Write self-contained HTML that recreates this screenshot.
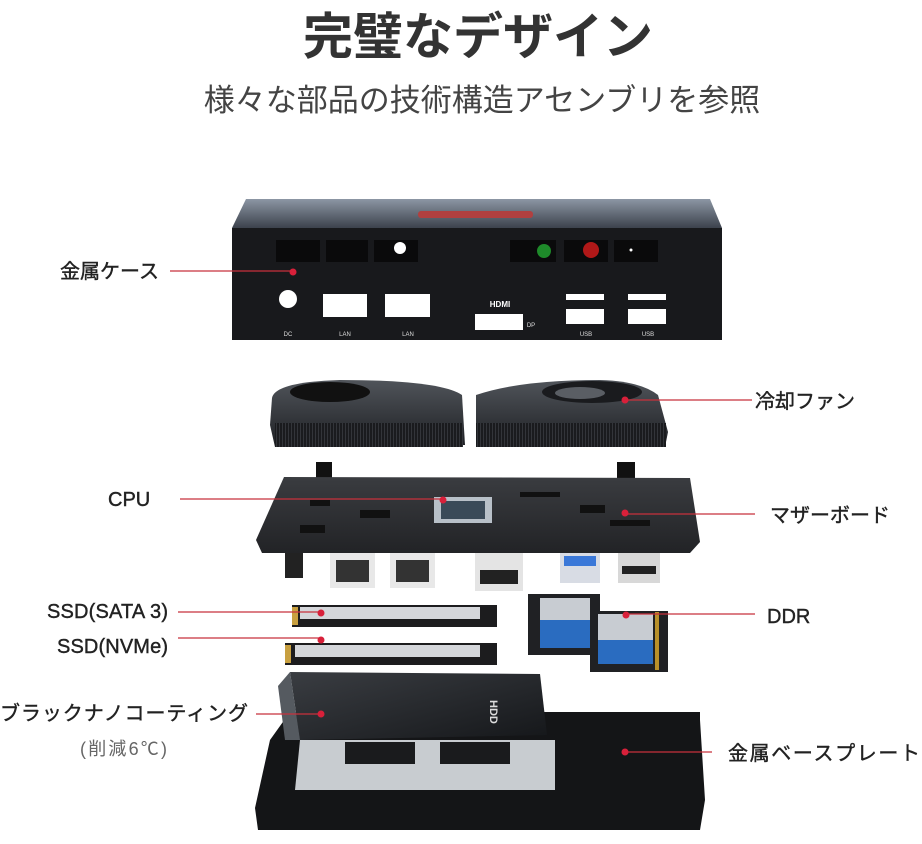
<!DOCTYPE html>
<html><head><meta charset="utf-8"><style>
html,body{margin:0;padding:0;background:#fff;width:922px;height:844px;overflow:hidden}
svg{display:block}
text{font-family:"Liberation Sans","Noto Sans CJK JP",sans-serif}
</style></head><body>
<svg width="922" height="844" viewBox="0 0 922 844" xmlns="http://www.w3.org/2000/svg">
<defs>
<linearGradient id="top" x1="0" y1="0" x2="0" y2="1"><stop offset="0" stop-color="#8c96a4"/><stop offset="1" stop-color="#3c424c"/></linearGradient>
<linearGradient id="fan" x1="0" y1="0" x2="0" y2="1"><stop offset="0" stop-color="#50545a"/><stop offset="1" stop-color="#1e2024"/></linearGradient>
<linearGradient id="pcb" x1="0" y1="0" x2="0" y2="1"><stop offset="0" stop-color="#3a3c40"/><stop offset="1" stop-color="#222326"/></linearGradient>
<linearGradient id="cov" x1="0" y1="0" x2="1" y2="1"><stop offset="0" stop-color="#3a3d42"/><stop offset="1" stop-color="#15171a"/></linearGradient>
<pattern id="fin" width="3" height="10" patternUnits="userSpaceOnUse"><rect width="3" height="10" fill="#1a1b1e"/><rect width="1" height="10" fill="#33353a"/></pattern>
</defs>
<text x="478" y="54" text-anchor="middle" font-size="50" font-weight="bold" fill="#333">完璧なデザイン</text>
<text x="482" y="111" text-anchor="middle" font-size="31" fill="#444">様々な部品の技術構造アセンブリを参照</text>

<!-- case -->
<polygon points="246,199 710,199 722,228 232,228" fill="url(#top)"/>
<rect x="418" y="211" width="115" height="7" rx="3" fill="#b04040"/>
<rect x="232" y="228" width="490" height="112" fill="#18191c"/>
<g fill="#0a0a0b"><rect x="276" y="240" width="44" height="22"/><rect x="326" y="240" width="42" height="22"/><rect x="374" y="240" width="44" height="22"/><rect x="510" y="240" width="46" height="22"/><rect x="564" y="240" width="44" height="22"/><rect x="614" y="240" width="44" height="22"/></g>
<circle cx="400" cy="248" r="6" fill="#fff"/>
<circle cx="544" cy="251" r="7" fill="#1e8a2a"/>
<circle cx="591" cy="250" r="8" fill="#b01818"/>
<circle cx="631" cy="250" r="1.5" fill="#fff"/>
<circle cx="288" cy="299" r="9" fill="#fff"/>
<rect x="323" y="294" width="44" height="23" fill="#fff"/>
<rect x="385" y="294" width="45" height="23" fill="#fff"/>
<rect x="475" y="314" width="48" height="16" fill="#fff"/>
<text x="500" y="307" text-anchor="middle" font-size="8" font-weight="bold" fill="#fff">HDMI</text>
<rect x="566" y="294" width="38" height="6" fill="#fff"/><rect x="566" y="309" width="38" height="15" fill="#fff"/>
<rect x="628" y="294" width="38" height="6" fill="#fff"/><rect x="628" y="309" width="38" height="15" fill="#fff"/>
<g font-size="6" fill="#ddd" text-anchor="middle"><text x="288" y="336">DC</text><text x="345" y="336">LAN</text><text x="408" y="336">LAN</text><text x="531" y="327">DP</text><text x="586" y="336">USB</text><text x="648" y="336">USB</text></g>

<!-- fans -->
<path d="M272,398 Q275,382 340,380 Q440,380 462,395 L465,445 L275,447 L270,425 Z" fill="url(#fan)"/>
<path d="M476,395 Q520,380 600,380 Q640,381 658,395 L668,432 L665,447 L476,447 Z" fill="url(#fan)"/>
<rect x="275" y="423" width="188" height="24" fill="url(#fin)"/>
<rect x="476" y="423" width="190" height="24" fill="url(#fin)"/>
<ellipse cx="330" cy="392" rx="40" ry="10" fill="#111"/>
<ellipse cx="592" cy="392" rx="50" ry="11" fill="#1a1b1e"/><ellipse cx="580" cy="393" rx="25" ry="6" fill="#5a5e64"/>

<!-- motherboard -->
<rect x="316" y="462" width="16" height="16" fill="#111"/><rect x="617" y="462" width="18" height="16" fill="#111"/>
<polygon points="284,477 690,478 700,542 690,553 262,553 256,540" fill="url(#pcb)"/>
<rect x="434" y="497" width="58" height="26" fill="#b8c0c8"/><rect x="441" y="501" width="44" height="18" fill="#3a4a58"/>
<g fill="#111"><rect x="310" y="500" width="20" height="6"/><rect x="360" y="510" width="30" height="8"/><rect x="520" y="492" width="40" height="5"/><rect x="580" y="505" width="25" height="8"/><rect x="610" y="520" width="40" height="6"/><rect x="300" y="525" width="25" height="8"/></g>
<rect x="285" y="553" width="18" height="25" fill="#222"/>
<rect x="330" y="553" width="45" height="35" fill="#e8e8e8"/><rect x="336" y="560" width="33" height="22" fill="#333"/>
<rect x="390" y="553" width="45" height="35" fill="#e8e8e8"/><rect x="396" y="560" width="33" height="22" fill="#333"/>
<rect x="475" y="553" width="48" height="38" fill="#e4e4e4"/><rect x="480" y="570" width="38" height="14" fill="#222"/>
<rect x="560" y="553" width="40" height="30" fill="#d8dce4"/><rect x="564" y="556" width="32" height="10" fill="#3a78d8"/>
<rect x="618" y="553" width="42" height="30" fill="#d8d8d8"/><rect x="622" y="566" width="34" height="8" fill="#222"/>

<!-- SSDs -->
<rect x="292" y="605" width="205" height="22" fill="#1c1c1e"/><rect x="300" y="607" width="180" height="12" fill="#d4d6da"/><rect x="292" y="607" width="6" height="18" fill="#c8a040"/>
<rect x="285" y="643" width="212" height="22" fill="#1c1c1e"/><rect x="295" y="645" width="185" height="12" fill="#d4d6da"/><rect x="285" y="645" width="6" height="18" fill="#c8a040"/>
<!-- RAM -->
<rect x="528" y="594" width="72" height="61" fill="#202124"/><rect x="540" y="598" width="50" height="50" fill="#c8ccd2"/><rect x="540" y="620" width="50" height="28" fill="#2a6cc0"/>
<rect x="590" y="611" width="78" height="61" fill="#202124"/><rect x="598" y="614" width="55" height="50" fill="#c8ccd2"/><rect x="598" y="640" width="55" height="24" fill="#2a6cc0"/><rect x="655" y="612" width="4" height="58" fill="#b8902a"/>

<!-- base plate -->
<polygon points="290,712 700,712 700,720 705,800 700,830 258,830 255,808 270,740" fill="#141517"/>
<polygon points="300,740 555,740 555,790 295,790" fill="#c8ccd0"/>
<rect x="345" y="742" width="70" height="22" fill="#1a1b1d"/><rect x="440" y="742" width="70" height="22" fill="#1a1b1d"/>
<polygon points="290,672 540,674 547,735 300,740" fill="url(#cov)"/>
<polygon points="278,686 290,672 300,740 285,740" fill="#555a60"/>
<text x="490" y="700" font-size="11" font-weight="bold" fill="#ddd" transform="rotate(90 490 700)">HDD</text>

<!-- callouts -->
<g stroke="#c8303c" stroke-width="1.2">
<line x1="170" y1="271" x2="292" y2="271"/><line x1="625" y1="400" x2="752" y2="400"/>
<line x1="180" y1="499" x2="443" y2="499"/><line x1="625" y1="514" x2="755" y2="514"/>
<line x1="178" y1="612" x2="320" y2="612"/><line x1="178" y1="638" x2="320" y2="638"/>
<line x1="627" y1="614" x2="755" y2="614"/><line x1="256" y1="714" x2="320" y2="714"/>
<line x1="625" y1="752" x2="712" y2="752"/>
</g>
<g fill="#d8203a"><circle cx="293" cy="272" r="3.5"/><circle cx="625" cy="400" r="3.5"/><circle cx="443" cy="500" r="3.5"/><circle cx="625" cy="513" r="3.5"/><circle cx="321" cy="613" r="3.5"/><circle cx="321" cy="640" r="3.5"/><circle cx="626" cy="615" r="3.5"/><circle cx="321" cy="714" r="3.5"/><circle cx="625" cy="752" r="3.5"/></g>
<g font-size="20" fill="#222" stroke="#222" stroke-width="0.4">
<text x="60" y="278">金属ケース</text>
<text x="755" y="408">冷却ファン</text>
<text x="108" y="506">CPU</text>
<text x="770" y="522">マザーボード</text>
<text x="47" y="618" textLength="121">SSD(SATA 3)</text>
<text x="57" y="653" textLength="111">SSD(NVMe)</text>
<text x="767" y="623">DDR</text>
<text x="0" y="720" textLength="248">ブラックナノコーティング</text>
<text x="728" y="760" textLength="192">金属ベースプレート</text>
</g>
<text x="80" y="755" font-size="18" fill="#666" textLength="87">(削減6℃)</text>
</svg>
</body></html>
